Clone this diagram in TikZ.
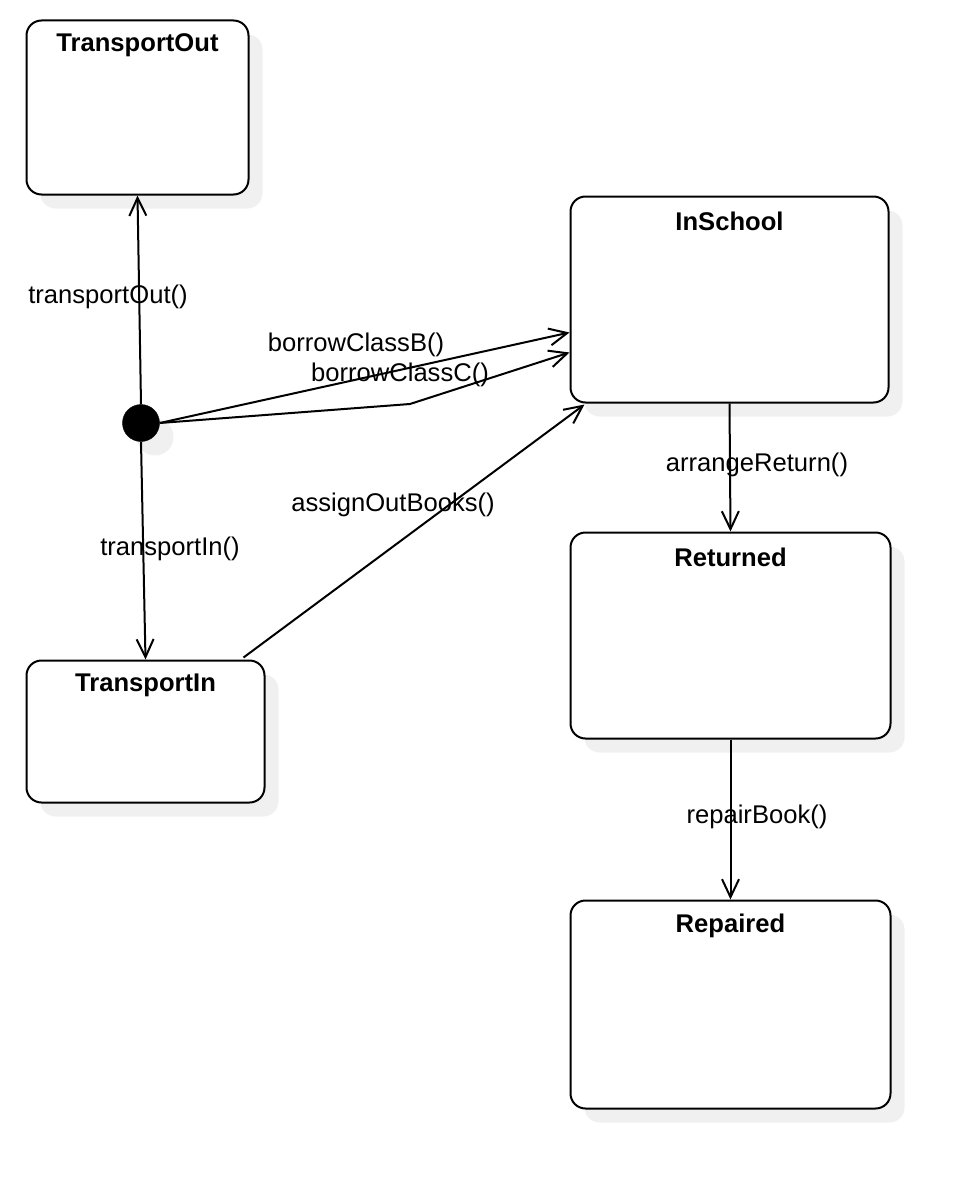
\documentclass[tikz,border=0pt]{standalone}
\usepackage{fontspec}
\setmainfont{Liberation Sans}
\usetikzlibrary{arrows.meta,shadows,calc}
\begin{document}
\begin{tikzpicture}[x=1pt,y=-1pt,
  font=\fontsize{25.6}{30}\selectfont,
  shade/.style={drop shadow={shadow xshift=14pt,shadow yshift=-14pt,fill=black!6,opacity=1}},
  statebox/.style={draw=black,line width=2pt,fill=white,rounded corners=15pt,anchor=north west,inner sep=0pt,shade},
  titletext/.style={font=\fontsize{25.6}{30}\selectfont\bfseries},
  lbl/.style={inner sep=0pt},
  edge/.style={draw=black,line width=2pt,line join=round,-{Straight Barb[length=18pt,width=17pt,line width=2pt]}}
]
\useasboundingbox (0,0) rectangle (970,1188);

\node[statebox,minimum width=222pt,minimum height=174pt] (tout) at (25.5,19.5) {};
\node[statebox,minimum width=318pt,minimum height=206pt] (insch) at (569.5,195.5) {};
\node[statebox,minimum width=320pt,minimum height=206pt] (ret) at (569.5,531.5) {};
\node[statebox,minimum width=320pt,minimum height=208pt] (rep) at (569.5,899.5) {};
\node[statebox,minimum width=238pt,minimum height=142pt] (tin) at (25.5,659.5) {};
\node[circle,fill=black,draw=black,minimum size=37pt,inner sep=0pt,shade] (init) at (141,423) {};

\node[titletext] (tout-t) at ($(tout.north)+(0,26)$) {TransportOut};
\node[titletext] (insch-t) at ($(insch.north)+(0,26)$) {InSchool};
\node[titletext] (ret-t) at ($(ret.north)+(0,26)$) {Returned};
\node[titletext] (rep-t) at ($(rep.north)+(0,26)$) {Repaired};
\node[titletext] (tin-t) at ($(tin.north)+(0,26)$) {TransportIn};

\coordinate (bendC) at (410,404);
\draw[edge] (init.north) -- (tout.south);
\draw[edge] (init.south) -- (tin.north);
\draw[edge] (init.east) -- ($(insch.west)+(0,33)$);
\draw[edge] (init.east) -- (bendC) -- ($(insch.west)+(0,53)$);
\draw[edge] ($(tin.north east)+(-22,-2)$) -- ($(insch.south west)+(15,1)$);
\draw[edge] (insch.south) -- (ret.north);
\draw[edge] (ret.south) -- (rep.north);

\node[lbl] (l-tout) at (108,296.5) {transportOut()};
\node[lbl] (l-b) at (356,344.5) {borrowClassB()};
\node[lbl] (l-c) at (400,374.5) {borrowClassC()};
\node[lbl] (l-assign) at (393,504.5) {assignOutBooks()};
\node[lbl] (l-tin) at (170,548.5) {transportIn()};
\node[lbl] (l-arr) at (757,464.5) {arrangeReturn()};
\node[lbl] (l-rep) at (757,816.5) {repairBook()};
\end{tikzpicture}
\end{document}
